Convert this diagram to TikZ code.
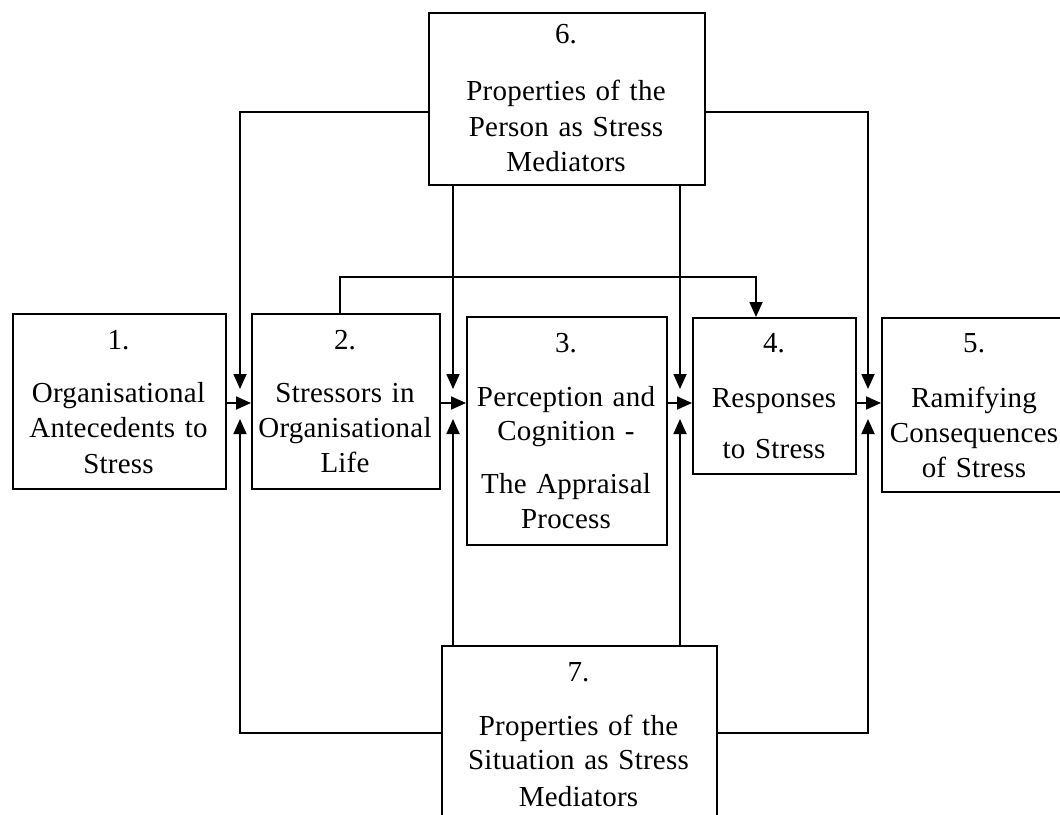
\documentclass[tikz,border=0pt]{standalone}
\usepackage{fontspec}
\setmainfont{Liberation Serif}[LetterSpace=0.8]
\usetikzlibrary{arrows.meta}
\begin{document}
\begin{tikzpicture}[x=1pt,y=-1pt,
  box/.style={draw, line width=1.8pt, inner sep=0pt, anchor=north west},
  txt/.style={text width=260pt, align=center, anchor=base, inner sep=0pt,
              font=\fontsize{29}{35}\selectfont},
  link/.style={line width=1.8pt},
  arr/.style={link, -{Triangle[length=15pt,width=13pt]}}]

\useasboundingbox (0,0) rectangle (1060,814);
\clip (0,0) rectangle (1060,814);

% the seven boxes of the model
\node[box, minimum width=213pt, minimum height=175pt] (b1) at (12,313) {};
\node[box, minimum width=188pt, minimum height=175pt] (b2) at (251,313) {};
\node[box, minimum width=200pt, minimum height=228pt] (b3) at (466,316) {};
\node[box, minimum width=163pt, minimum height=156pt] (b4) at (692,317) {};
\node[box, minimum width=186pt, minimum height=174pt] (b5) at (881,317) {};
\node[box, minimum width=276pt, minimum height=172pt] (b6) at (428,12) {};
\node[box, minimum width=275pt, minimum height=200pt] (b7) at (441,645) {};

% box texts
\node[txt] (t1) at (118.5,349) {1.\\[18pt]Organisational\\Antecedents to\\[1pt]Stress};
\node[txt] (t2) at (345,349) {2.\\[18pt]Stressors in\\Organisational\\Life};
\node[txt] (t3) at (566,352) {3.\\[19pt]Perception and\\[-1pt]Cognition -\\[18pt]The Appraisal\\Process};
\node[txt] (t4) at (774,352) {4.\\[20pt]Responses\\[16pt]to Stress};
\node[txt] (t5) at (974,352) {5.\\[20pt]Ramifying\\Consequences\\of Stress};
\node[txt] (t6) at (566,43) {6.\\[22pt]Properties of the\\[1pt]Person as Stress\\Mediators};
\node[txt] (t7) at (578.5,681) {7.\\[19pt]Properties of the\\[-1pt]Situation as Stress\\[2pt]Mediators};

% columns and rows of the connector grid
\coordinate (xL) at (240,0);
\coordinate (xA) at (453,0);
\coordinate (xB) at (680,0);
\coordinate (xR) at (868,0);
\coordinate (xP) at (340,0);
\coordinate (xQ) at (756,0);
\coordinate (yT) at (0,112);
\coordinate (yB) at (0,733);
\coordinate (yP) at (0,277);
\coordinate (yH) at (0,403);
\coordinate (yD) at (0,389);
\coordinate (yU) at (0,419);

% main chain
\draw[arr] (b1.east |- yH) -- (b2.west |- yH);
\draw[arr] (b2.east |- yH) -- (b3.west |- yH);
\draw[arr] (b3.east |- yH) -- (b4.west |- yH);
\draw[arr] (b4.east |- yH) -- (b5.west |- yH);

% person mediators
\draw[arr] (b6.west |- yT) -| (xL |- yD);
\draw[arr] (b6.south -| xA) -- (xA |- yD);
\draw[arr] (b6.south -| xB) -- (xB |- yD);
\draw[arr] (b6.east |- yT) -| (xR |- yD);

% situation mediators
\draw[arr] (b7.west |- yB) -| (xL |- yU);
\draw[arr] (b7.north -| xA) -- (xA |- yU);
\draw[arr] (b7.north -| xB) -- (xB |- yU);
\draw[arr] (b7.east |- yB) -| (xR |- yU);

% stressors straight to responses
\draw[arr] (b2.north -| xP) |- (yP -| xQ) -- (b4.north -| xQ);
\end{tikzpicture}
\end{document}
